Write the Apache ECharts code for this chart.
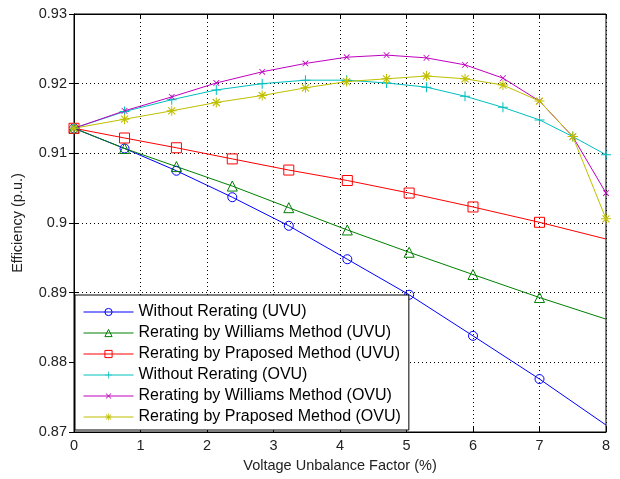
<!DOCTYPE html>
<html>
<head>
<meta charset="utf-8">
<script src="https://cdn.jsdelivr.net/npm/echarts@6/dist/echarts.min.js"></script>
<style>html,body{margin:0;padding:0;background:#fff}#c{width:620px;height:479px}</style>
</head>
<body>
<div id="c"></div>
<script>
const xTicks = [0, 1, 2, 3, 4, 5, 6, 7, 8];
const yTicks = [0.87, 0.88, 0.89, 0.9, 0.91, 0.92, 0.93];

const xUVU = [0, 0.76, 1.54, 2.38, 3.23, 4.11, 5.04, 6.0, 7.0, 8.0];
const withoutUVU  = [0.9136, 0.9107, 0.9075, 0.9037, 0.8996, 0.8948, 0.8897, 0.8838, 0.8776, 0.8710];
const williamsUVU = [0.9136, 0.9107, 0.9081, 0.9053, 0.9022, 0.8990, 0.8958, 0.8926, 0.8893, 0.8862];
const proposedUVU = [0.9136, 0.9122, 0.9108, 0.9092, 0.9076, 0.9061, 0.9043, 0.9023, 0.9001, 0.8977];

const xOVU = [0, 0.76, 1.47, 2.14, 2.83, 3.48, 4.1, 4.7, 5.3, 5.88, 6.45, 7.0, 7.5, 8.0];
const withoutOVU  = [0.9136, 0.9160, 0.9177, 0.9191, 0.9200, 0.9205, 0.9205, 0.9201, 0.9195, 0.9182, 0.9166, 0.9148, 0.9124, 0.9098];
const williamsOVU = [0.9136, 0.9161, 0.9181, 0.9201, 0.9217, 0.9229, 0.9238, 0.9241, 0.9237, 0.9227, 0.9208, 0.9175, 0.9124, 0.9043];
const proposedOVU = [0.9136, 0.9149, 0.9161, 0.9173, 0.9183, 0.9194, 0.9203, 0.9207, 0.9211, 0.9207, 0.9198, 0.9175, 0.9124, 0.9006];

const names = [
  'Without Rerating (UVU)',
  'Rerating by Williams Method (UVU)',
  'Rerating by Praposed Method (UVU)',
  'Without Rerating (OVU)',
  'Rerating by Williams Method (OVU)',
  'Rerating by Praposed Method (OVU)'
];

const PLUS = 'path://M0,4.5H10V5.5H0Z M4.5,0H5.5V10H4.5Z';
const STAR = 'path://M0,4.5H10V5.5H0Z M4.5,0H5.5V10H4.5Z M1.1,1.9L1.9,1.1L8.9,8.1L8.1,8.9Z M8.1,1.1L8.9,1.9L1.9,8.9L1.1,8.1Z';

function pairs(xs, ys, hideLast) {
  return xs.map((x, i) => {
    if (hideLast && i === xs.length - 1) return { value: [x, ys[i]], symbol: 'none' };
    return [x, ys[i]];
  });
}

function mk(name, xs, ys, color, symbol, size, opts) {
  opts = opts || {};
  return {
    name: name, type: 'line', data: pairs(xs, ys, opts.hideLast),
    symbol: symbol, symbolSize: size, symbolRotate: opts.rotate || 0,
    showAllSymbol: true, animation: false,
    lineStyle: { color: color, width: 1 },
    itemStyle: opts.hollow ? { color: 'rgba(0,0,0,0)', borderColor: color, borderWidth: 1 } : { color: color, borderWidth: 0 },
    emphasis: { disabled: true }
  };
}

const series = [
  mk(names[0], xUVU, withoutUVU, '#0000ff', 'circle', 9, { hideLast: true, hollow: true }),
  mk(names[1], xUVU, williamsUVU, '#008000', 'triangle', 10, { hideLast: true, hollow: true }),
  mk(names[2], xUVU, proposedUVU, '#ff0000', 'rect', 10, { hideLast: true, hollow: true }),
  mk(names[3], xOVU, withoutOVU, '#00bfbf', PLUS, 10),
  mk(names[4], xOVU, williamsOVU, '#bf00bf', PLUS, 8, { rotate: 45 }),
  mk(names[5], xOVU, proposedOVU, '#bfbf00', STAR, 10)
];

const font = 'Liberation Sans, Arial, Helvetica, sans-serif';
const chart = echarts.init(document.getElementById('c'), null, { renderer: 'canvas' });
chart.setOption({
  backgroundColor: '#fff',
  animation: false,
  grid: { left: 74, right: 14, top: 14, bottom: 47, show: true, borderColor: '#000', borderWidth: 1, backgroundColor: 'transparent' },
  legend: {
    orient: 'vertical', left: 75, top: 295,
    backgroundColor: '#fff', borderColor: '#000', borderWidth: 1,
    padding: [9, 8, 5, 8], itemGap: 5, itemWidth: 50, itemHeight: 9,
    lineStyle: { width: 1 },
    itemStyle: { borderWidth: 1 },
    textStyle: { fontFamily: font, fontSize: 16, color: '#000' },
    data: names, selectedMode: false
  },
  xAxis: [{
    type: 'value', min: xTicks[0], max: xTicks[xTicks.length - 1], interval: 1,
    name: 'Voltage Unbalance Factor (%)', nameLocation: 'middle', nameGap: 26,
    nameTextStyle: { fontFamily: font, fontSize: 14.5, color: '#222' },
    axisLine: { show: true, lineStyle: { color: '#000', width: 1 } },
    axisTick: { show: true, inside: true, length: 5, lineStyle: { color: '#000' } },
    axisLabel: { fontFamily: font, fontSize: 14.5, color: '#222', margin: 6 },
    splitLine: { show: true, lineStyle: { color: '#000', type: [1, 3], width: 1 } }
  }, {
    type: 'value', position: 'top', min: 0, max: 8, interval: 1,
    axisLine: { show: true, lineStyle: { color: '#000' } },
    axisTick: { show: true, inside: true, length: 5, lineStyle: { color: '#000' } },
    axisLabel: { show: false }, splitLine: { show: false }
  }],
  yAxis: [{
    type: 'value', min: yTicks[0], max: yTicks[yTicks.length - 1], interval: 0.01,
    name: 'Efficiency (p.u.)', nameLocation: 'middle', nameGap: 49,
    nameTextStyle: { fontFamily: font, fontSize: 14.5, color: '#222' },
    axisLine: { show: true, lineStyle: { color: '#000', width: 1 } },
    axisTick: { show: true, inside: true, length: 5, lineStyle: { color: '#000' } },
    axisLabel: { fontFamily: font, fontSize: 14.5, color: '#222', margin: 7,
      formatter: v => String(Math.round(v * 100) / 100) },
    splitLine: { show: true, lineStyle: { color: '#000', type: [1, 3], width: 1 } }
  }, {
    type: 'value', position: 'right', min: 0.87, max: 0.93, interval: 0.01,
    axisLine: { show: true, lineStyle: { color: '#000' } },
    axisTick: { show: true, inside: true, length: 5, lineStyle: { color: '#000' } },
    axisLabel: { show: false }, splitLine: { show: false }
  }],
  series: series
});
</script>
</body>
</html>
